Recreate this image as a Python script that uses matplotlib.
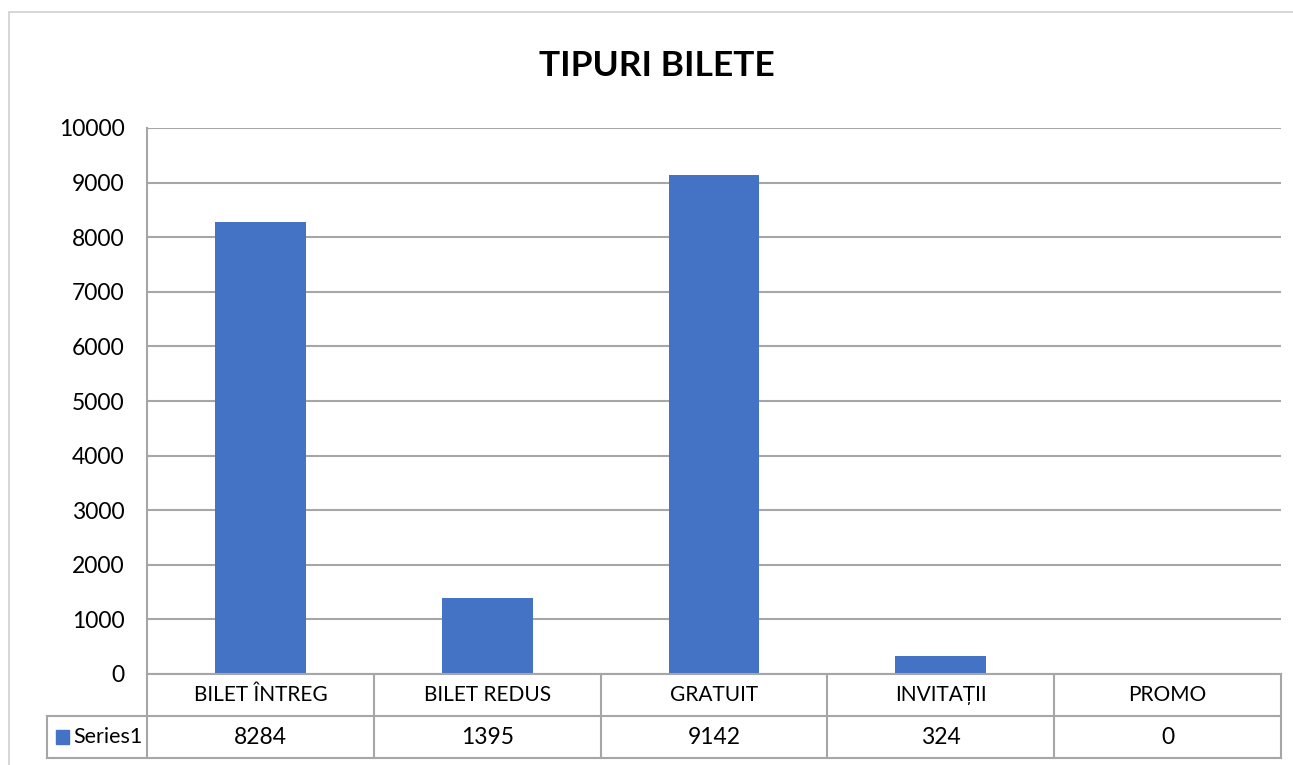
import matplotlib.pyplot as plt
from matplotlib.transforms import blended_transform_factory
from matplotlib.patches import Rectangle

# date
categorii = ['BILET ÎNTREG', 'BILET REDUS', 'GRATUIT', 'INVITAȚII', 'PROMO']
valori = [8284, 1395, 9142, 324, 0]
serie = 'Series1'
y_ticks = list(range(0, 10001, 1000))

plt.rcParams['font.family'] = ['Lato', 'DejaVu Sans']

W, H = 1293, 765
fig = plt.figure(figsize=(W / 100, H / 100), dpi=100)

# cadru exterior
fig.patches.append(Rectangle((9 / W, -0.1), 1.2, 1 - 12 / H + 0.1, transform=fig.transFigure,
                             fill=False, edgecolor='#d0d0d0', linewidth=1.2))

ax = fig.add_axes([147 / W, 1 - 674 / H, (1281 - 147) / W, (674 - 128) / H])
x = range(len(categorii))
ax.bar(x, valori, width=0.4, color='#4472C4', zorder=3)
ax.set_xlim(-0.5, len(categorii) - 0.5)
ax.set_ylim(0, 10000)
ax.set_yticks(y_ticks)
ax.set_yticklabels([str(t) for t in y_ticks], fontsize=16.5)
ax.tick_params(axis='y', length=0, pad=16)
ax.set_xticks([])
ax.grid(axis='y', color='#a6a6a6', linewidth=1.5, zorder=0)
for s in ['top', 'right', 'bottom']:
    ax.spines[s].set_visible(False)
ax.spines['left'].set_color('#a6a6a6')
ax.spines['left'].set_linewidth(1.5)

fig.text(657 / W, 1 - 66 / H, 'TIPURI BILETE', ha='center', va='center',
         fontsize=25.5, fontweight='bold')

# tabel de date
tr = blended_transform_factory(ax.transData, ax.transAxes)
rh = 42 / (674 - 128)
left_lbl = -0.5 - 100 / ((1281 - 147) / len(categorii))
lc = '#a6a6a6'
lw = 1.5
n = len(categorii)
# orizontale
for yy, x0 in [(0, -0.5), (-rh, left_lbl), (-2 * rh, left_lbl)]:
    ax.plot([x0, n - 0.5], [yy, yy], color=lc, lw=lw, transform=tr, clip_on=False, zorder=4)
# verticale
for i in range(n + 1):
    ax.plot([i - 0.5, i - 0.5], [0, -2 * rh], color=lc, lw=lw, transform=tr, clip_on=False, zorder=4)
ax.plot([left_lbl, left_lbl], [-rh, -2 * rh], color=lc, lw=lw, transform=tr, clip_on=False)

for i, (c, v) in enumerate(zip(categorii, valori)):
    ax.text(i, -rh / 2, c, ha='center', va='center', fontsize=15, transform=tr)
    ax.text(i, -1.5 * rh, str(v), ha='center', va='center', fontsize=16.5, transform=tr)

ax.add_patch(Rectangle((left_lbl + 0.04, -1.5 * rh - 0.013), 0.055, 0.026, transform=tr,
                       color='#4472C4', clip_on=False))
ax.text(left_lbl + 0.118, -1.5 * rh, serie, ha='left', va='center', fontsize=15.5, transform=tr)

fig.savefig('out.png', dpi=100)
